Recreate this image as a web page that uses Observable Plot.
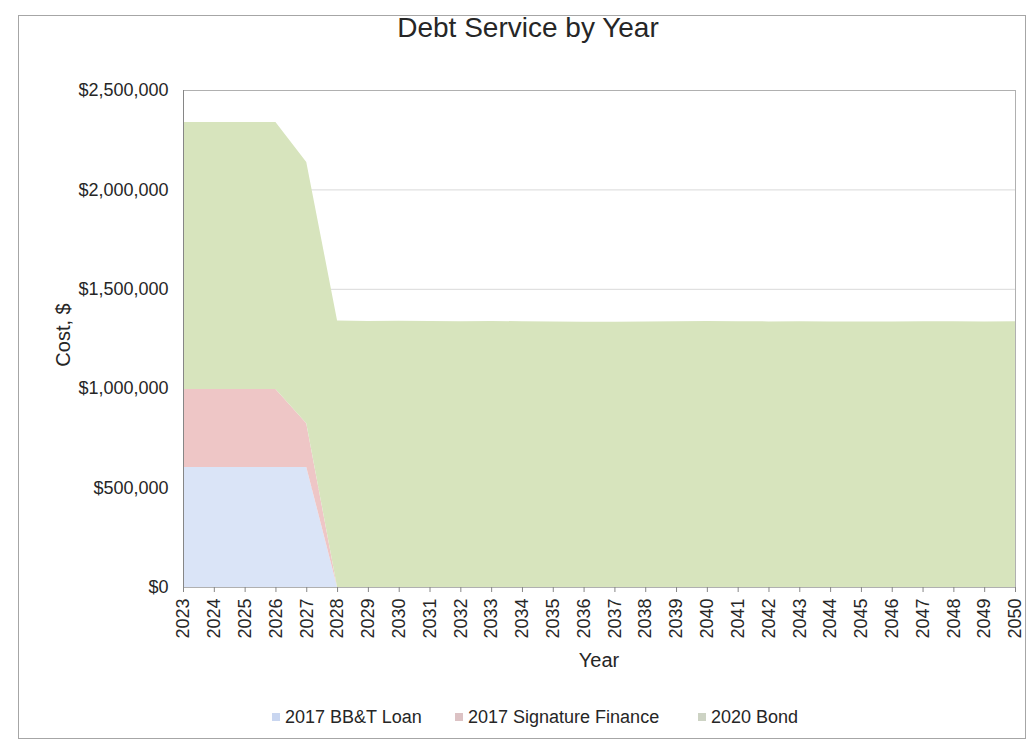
<!DOCTYPE html>
<html>
<head>
<meta charset="utf-8">
<script src="https://cdn.jsdelivr.net/npm/d3@7"></script>
<script src="https://cdn.jsdelivr.net/npm/@observablehq/plot@0.6"></script>
<style>
  html, body { margin: 0; padding: 0; background: #fff; }
  #wrap { position: relative; width: 1036px; height: 751px; font-family: "Liberation Sans", Arial, sans-serif; color: #262626; }
  #border { position: absolute; left: 18px; top: 15px; width: 1008px; height: 724px; border: 1px solid #a6a6a6; box-sizing: border-box; pointer-events: none; }
  #chart { position: absolute; left: 0; top: 0; }
  #title { position: absolute; left: 328px; width: 400px; top: 12px; text-align: center; font-size: 28px; line-height: 32px; }
  #ylab { position: absolute; left: 63px; top: 335px; font-size: 20px; white-space: nowrap; transform: translate(-50%, -50%) rotate(-90deg); }
  #xlab { position: absolute; left: 599px; top: 660px; font-size: 20px; transform: translate(-50%, -50%); }
  #legend { position: absolute; top: 706px; left: 0; width: 1036px; height: 22px; font-size: 18px; }
  .item { position: absolute; top: 0; display: flex; align-items: center; height: 22px; white-space: nowrap; }
  .sw { width: 8px; height: 8px; margin-right: 5px; display: inline-block; }
</style>
</head>
<body>
<div id="wrap">
  <div id="chart"></div>
  <div id="title">Debt Service by Year</div>
  <div id="ylab">Cost, $</div>
  <div id="xlab">Year</div>
  <div id="legend"></div>
  <div id="border"></div>
</div>
<script>
const years = [2023, 2024, 2025, 2026, 2027, 2028, 2029, 2030, 2031, 2032, 2033, 2034, 2035, 2036,
               2037, 2038, 2039, 2040, 2041, 2042, 2043, 2044, 2045, 2046, 2047, 2048, 2049, 2050];
const bbtLoan = [604000, 604000, 604000, 604000, 604000, 0, 0, 0, 0, 0, 0, 0, 0, 0,
                 0, 0, 0, 0, 0, 0, 0, 0, 0, 0, 0, 0, 0, 0];
const signatureFinance = [392000, 392000, 392000, 392000, 220000, 0, 0, 0, 0, 0, 0, 0, 0, 0,
                          0, 0, 0, 0, 0, 0, 0, 0, 0, 0, 0, 0, 0, 0];
const bond2020 = [1343000, 1343000, 1343000, 1343000, 1314000, 1341000, 1338000, 1339000, 1338000, 1337000,
                  1338000, 1337000, 1336000, 1334000, 1334000, 1336000, 1337000, 1338000, 1337000, 1336000,
                  1337000, 1336000, 1335000, 1336000, 1337000, 1337000, 1336000, 1337000];
const seriesNames = ["2017 BB&T Loan", "2017 Signature Finance", "2020 Bond"];
const seriesColors = ["#dae4f7", "#eec6c6", "#d7e4bd"];
const legendSwatches = ["#c9d6f0", "#dcc2c4", "#cdd3c4"];
const yTicks = [0, 500000, 1000000, 1500000, 2000000, 2500000];

const seriesValues = [bbtLoan, signatureFinance, bond2020];
const rows = [];
seriesNames.forEach((name, si) => {
  years.forEach((yr, i) => rows.push({year: yr, series: name, value: seriesValues[si][i]}));
});

const fmtMoney = d => "$" + d3.format(",")(d);

const chart = Plot.plot({
  width: 1036,
  height: 751,
  marginLeft: 183,
  marginRight: 21,
  marginTop: 90,
  marginBottom: 164,
  style: {fontFamily: "'Liberation Sans', Arial, sans-serif", fontSize: "18px", color: "#262626", background: "transparent"},
  x: {domain: [2023, 2050]},
  y: {domain: [0, 2500000]},
  color: {domain: seriesNames, range: seriesColors},
  marks: [
    Plot.gridY(yTicks, {stroke: "#d9d9d9", strokeOpacity: 1}),
    Plot.areaY(rows, {x: "year", y: "value", fill: "series", order: seriesNames, curve: "linear"}),
    Plot.frame({stroke: "#b0b0b0"}),
    Plot.ruleX([2023], {stroke: "#868686"}),
    Plot.axisX({ticks: years, tickFormat: d => String(d), tickRotate: -90, tickSize: 5, tickPadding: 6, label: null, stroke: "#868686", fontSize: 18}),
    Plot.axisY({ticks: yTicks, tickFormat: fmtMoney, tickSize: 0, tickPadding: 15, label: null, fontSize: 18})
  ]
});
document.getElementById("chart").appendChild(chart);

const legendX = [272, 455, 698];
const legend = document.getElementById("legend");
seriesNames.forEach((name, i) => {
  const item = document.createElement("div");
  item.className = "item";
  item.style.left = legendX[i] + "px";
  const sw = document.createElement("span");
  sw.className = "sw";
  sw.style.background = legendSwatches[i];
  item.appendChild(sw);
  item.appendChild(document.createTextNode(name));
  legend.appendChild(item);
});
</script>
</body>
</html>
